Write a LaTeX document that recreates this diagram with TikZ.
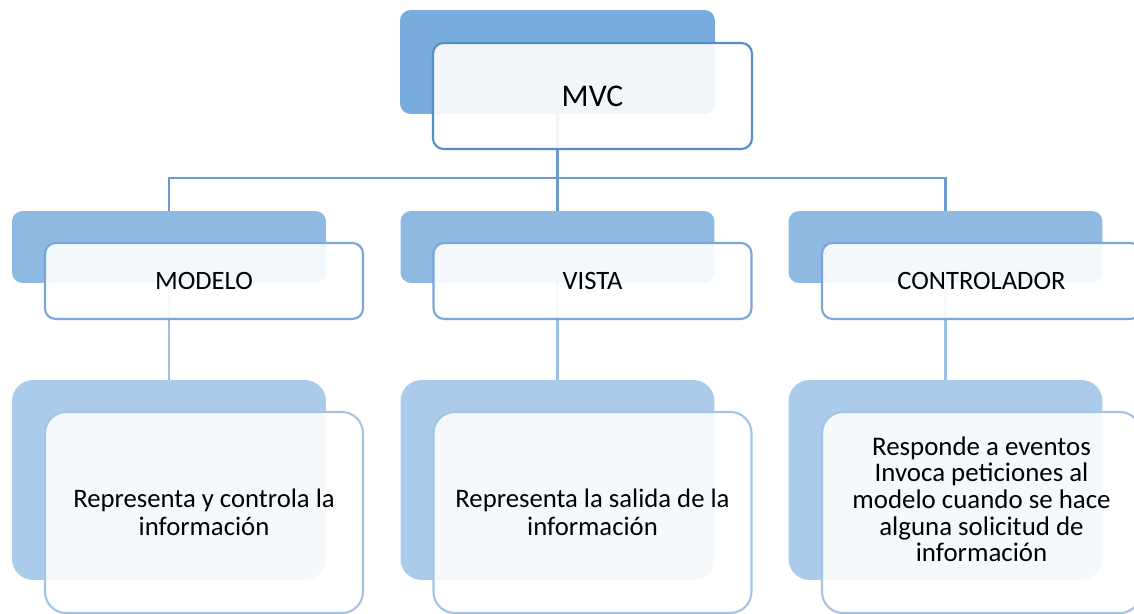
\documentclass[tikz,border=0pt]{standalone}
\usepackage{fontspec}
\setmainfont{Carlito}
\definecolor{azulA}{RGB}{120,172,221}
\definecolor{azulB}{RGB}{141,185,226}
\definecolor{azulC}{RGB}{170,203,233}
\definecolor{bordeA}{RGB}{88,142,199}
\definecolor{bordeB}{RGB}{122,166,218}
\definecolor{bordeC}{RGB}{165,196,230}
\definecolor{lineaA}{RGB}{110,155,205}
\definecolor{lineaB}{RGB}{155,192,230}
\tikzset{
  atras/.style={rectangle, rounded corners=6pt, inner sep=0pt, draw=none},
  frente/.style={rectangle, rounded corners=6pt, inner sep=0pt, line width=1.2pt,
    fill=white, fill opacity=0.9, text opacity=1, align=center},
}
\begin{document}
\begin{tikzpicture}[x=0.02cm, y=-0.02cm]
        \clip (0,0) rectangle (1134,614);
        \fill[white] (0,0) rectangle (1134,614);

        % Cajas de fondo
        \node[atras, fill=azulA, minimum width=6.3cm, minimum height=2.08cm] (mvcatras) at (557.5,62) {};
        \node[atras, fill=azulB, minimum width=6.28cm, minimum height=1.44cm] (modeloatras) at (169,247) {};
        \node[atras, fill=azulB, minimum width=6.28cm, minimum height=1.44cm] (vistaatras) at (557.5,247) {};
        \node[atras, fill=azulB, minimum width=6.28cm, minimum height=1.44cm] (controlatras) at (945.5,247) {};
        \node[atras, fill=azulC, rounded corners=12pt, minimum width=6.28cm, minimum height=4cm] (modelodescatras) at (169,480) {};
        \node[atras, fill=azulC, rounded corners=12pt, minimum width=6.28cm, minimum height=4cm] (vistadescatras) at (557.5,480) {};
        \node[atras, fill=azulC, rounded corners=12pt, minimum width=6.28cm, minimum height=4cm] (controldescatras) at (945.5,480) {};

        % Conectores
        \coordinate (bus) at (557.5,178);
        \draw[lineaA, line width=1.2pt] (mvcatras.south) -- (bus);
        \draw[lineaA, line width=1.2pt] (modeloatras.north) |- (bus) -| (controlatras.north);
        \draw[lineaA, line width=1.2pt] (vistaatras.north) -- (bus);
        \draw[lineaB, line width=1.2pt] (modeloatras.south) -- (modelodescatras.north);
        \draw[lineaB, line width=1.2pt] (vistaatras.south) -- (vistadescatras.north);
        \draw[lineaB, line width=1.2pt] (controlatras.south) -- (controldescatras.north);

        % Cajas de texto
        \node[frente, draw=bordeA, minimum width=6.38cm, minimum height=2.12cm,
          font=\fontsize{18}{21}\selectfont] (mvc) at (592.5,96) {MVC};
        \node[frente, draw=bordeB, minimum width=6.36cm, minimum height=1.52cm,
          font=\fontsize{15.1}{18}\selectfont] (modelo) at (204,281) {MODELO};
        \node[frente, draw=bordeB, minimum width=6.36cm, minimum height=1.52cm,
          font=\fontsize{15.1}{18}\selectfont] (vista) at (592.5,281) {VISTA};
        \node[frente, draw=bordeB, minimum width=6.38cm, minimum height=1.52cm,
          font=\fontsize{15.1}{18}\selectfont] (control) at (981.5,281) {CONTROLADOR};
        \node[frente, draw=bordeC, rounded corners=12pt, minimum width=6.36cm, minimum height=4.02cm,
          font=\fontsize{15.2}{16}\selectfont] (modelodesc) at (204,512.5)
          {Representa y controla la\\información};
        \node[frente, draw=bordeC, rounded corners=12pt, minimum width=6.36cm, minimum height=4.02cm,
          font=\fontsize{15.2}{16}\selectfont] (vistadesc) at (592.5,512.5)
          {Representa la salida de la\\información};
        \node[frente, draw=bordeC, rounded corners=12pt, minimum width=6.38cm, minimum height=4.02cm,
          font=\fontsize{15.3}{15.2}\selectfont] (controldesc) at (981.5,512.5)
          {Responde a eventos\\Invoca peticiones al\\modelo cuando se hace\\alguna solicitud de\\información\\ \mbox{}};
    \end{tikzpicture}
\end{document}
